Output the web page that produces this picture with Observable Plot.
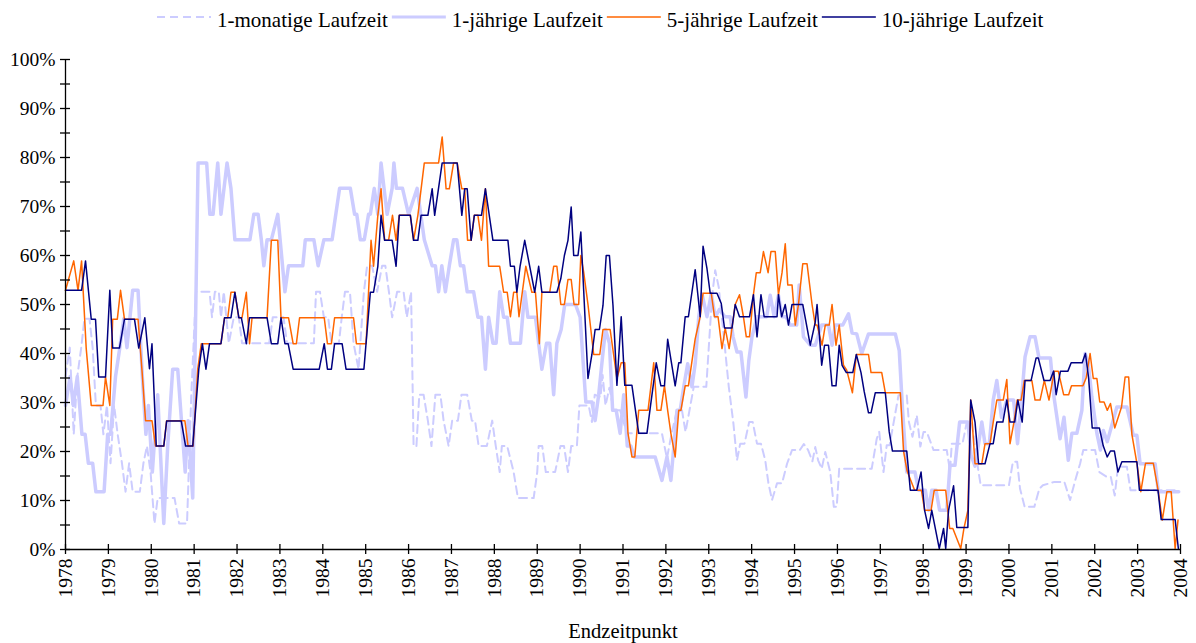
<!DOCTYPE html>
<html><head><meta charset="utf-8">
<script src="https://cdn.jsdelivr.net/npm/d3@7"></script>
<script src="https://cdn.jsdelivr.net/npm/@observablehq/plot@0.6"></script>
<style>
body{margin:0;background:#fff;font-family:"Liberation Serif","Times New Roman",serif;}
#wrap{position:relative;width:1196px;height:643px;overflow:hidden;background:#fff;}
#legend{position:absolute;left:0;top:0;}
#chart{position:absolute;left:0;top:40px;}
#caption{position:absolute;left:0;top:610px;}
</style></head>
<body><div id="wrap"><div id="legend"></div><div id="chart"></div><div id="caption"></div></div>
<script>
// month offsets from Jan 1978, values in percent
const monat1 = [[0,35.3],[1.2,41.2],[2.3,23.5],[3.3,35.3],[4.4,41.2],[5.3,47.1],[6.7,47.1],[7.6,41.2],[8.5,29.4],[9.8,29.4],[10.6,23.5],[11.6,29.4],[12.6,17.6],[13.6,29.4],[14.6,23.5],[15.8,17.6],[16.8,11.8],[17.8,17.6],[18.8,11.8],[20.8,11.8],[21.8,17.6],[22.8,21.1],[23.8,15.8],[24.9,5.3],[25.8,10.5],[30.5,10.5],[31.8,5.3],[34.0,5.3],[35.2,31.6],[36.5,52.6],[40.3,52.6],[41.0,47.4],[41.8,52.6],[42.9,52.6],[43.5,47.4],[44.3,52.6],[45.7,42.1],[47.1,47.4],[48.5,47.4],[49.4,42.1],[57.0,42.1],[58.0,47.4],[61.0,47.4],[62.0,42.1],[69.5,42.1],[70.1,52.6],[71.2,52.6],[72.3,47.4],[73.5,47.4],[74.4,42.1],[76.5,42.1],[77.3,47.4],[78.2,52.6],[79.6,52.6],[80.6,42.1],[82.0,36.8],[83.5,52.6],[84.4,57.9],[85.8,57.9],[87.2,52.6],[88.6,57.9],[89.5,57.9],[90.5,52.6],[91.4,47.4],[92.8,52.6],[94.6,52.6],[95.5,47.4],[96.7,52.6],[97.4,21.1],[98.2,21.1],[99.0,31.6],[100.2,31.6],[101.4,26.3],[102.4,21.1],[103.5,31.6],[104.9,31.6],[105.8,26.3],[107.2,21.1],[108.2,26.3],[109.8,26.3],[110.8,31.6],[112.4,31.6],[113.7,26.3],[114.6,26.3],[115.6,21.1],[117.9,21.1],[119.4,26.3],[120.4,21.1],[121.5,15.8],[122.1,21.1],[123.6,21.1],[125.4,15.8],[126.6,10.5],[131.0,10.5],[132.0,15.8],[132.4,21.1],[133.4,21.1],[134.4,15.8],[137.0,15.8],[138.5,21.1],[139.5,21.1],[140.6,15.8],[141.5,21.1],[143.1,21.1],[143.8,29.4],[146.4,29.4],[147.3,26.0],[148.1,31.6],[149.7,31.1],[150.3,35.6],[151.1,29.4],[152.2,33.0],[153.4,28.4],[155.2,28.4],[157.1,23.7],[166.9,23.7],[168.3,18.6],[169.6,23.7],[171.1,28.4],[172.5,28.4],[173.5,24.0],[174.6,28.4],[175.8,33.2],[179.3,33.2],[180.2,43.5],[180.9,51.5],[181.8,57.0],[182.8,53.5],[184.6,40.6],[185.6,33.2],[186.9,25.7],[187.9,18.2],[188.8,21.6],[190.0,21.6],[191.3,26.0],[192.3,26.0],[193.5,21.6],[194.6,21.6],[195.8,18.2],[196.7,13.5],[197.7,10.1],[199.1,13.5],[200.5,13.5],[201.9,17.5],[203.3,20.3],[205.5,20.3],[206.6,21.5],[207.8,20.3],[209.0,18.0],[209.8,20.9],[210.6,18.2],[211.6,16.5],[212.6,19.9],[214.0,15.8],[215.0,8.7],[215.8,8.7],[216.5,16.5],[225.6,16.5],[227.0,22.6],[227.7,24.0],[228.9,15.8],[229.8,21.3],[230.6,21.3],[233.1,31.5],[235.4,31.5],[236.0,26.0],[237.0,23.0],[238.2,27.4],[239.2,21.0],[240.1,24.0],[241.0,24.0],[242.9,20.3],[246.6,20.3],[247.5,16.0],[248.0,21.6],[251.0,21.6],[252.2,26.0],[253.6,26.0],[254.5,21.0],[255.5,15.8],[256.1,13.1],[264.0,13.1],[265.1,17.9],[266.3,17.9],[267.1,12.4],[268.4,8.7],[271.1,8.7],[272.5,12.4],[273.5,13.1],[276.7,13.8],[279.5,13.8],[281.1,10.1],[282.5,14.0],[283.9,17.5],[284.8,20.3],[288.1,20.3],[289.3,15.8],[291.4,14.8],[292.5,14.8],[293.6,11.0],[294.5,16.9],[297.0,16.9],[298.0,12.1],[311.5,12.1]];

const jahr1 = [[0,29.4],[1.3,35.3],[2.2,29.4],[3.3,35.3],[4.6,23.5],[5.5,23.5],[6.4,17.6],[7.6,17.6],[8.5,11.8],[10.8,11.8],[11.8,23.5],[12.6,23.5],[14.0,35.3],[15.2,41.2],[16.3,47.1],[17.2,41.2],[18.8,52.9],[20.3,52.9],[21.5,35.3],[22.5,23.5],[23.2,29.4],[24.3,15.8],[25.8,31.6],[27.5,5.3],[28.6,21.1],[30.0,36.8],[31.4,36.8],[33.5,15.8],[34.3,26.3],[35.6,10.5],[37.1,78.9],[39.5,78.9],[40.4,68.4],[41.3,68.4],[42.6,78.9],[43.5,68.4],[45.2,78.9],[46.3,73.7],[47.4,63.2],[51.6,63.2],[52.7,68.4],[53.9,68.4],[54.8,63.2],[55.5,57.9],[56.4,63.2],[57.6,63.2],[59.4,68.4],[61.4,52.6],[62.4,57.9],[66.4,57.9],[67.1,63.2],[69.5,63.2],[70.7,57.9],[72.3,63.2],[74.6,63.2],[76.7,73.7],[79.7,73.7],[80.9,68.4],[81.5,68.4],[82.5,63.2],[83.6,63.2],[84.8,68.4],[85.3,68.4],[86.4,73.7],[87.4,68.4],[88.3,78.9],[90.0,68.4],[91.4,73.7],[91.9,78.9],[92.6,73.7],[94.3,73.7],[96.0,68.4],[98.4,73.7],[100.4,63.2],[102.6,57.9],[103.5,57.9],[104.4,52.6],[105.3,57.9],[106.3,52.6],[107.4,57.9],[108.6,63.2],[109.5,63.2],[110.5,57.9],[111.4,57.9],[112.4,52.6],[114.2,52.6],[115.4,47.4],[116.4,47.4],[117.5,36.8],[118.4,47.4],[119.6,42.1],[120.5,42.1],[121.5,52.6],[122.6,47.4],[123.6,47.4],[124.5,42.1],[127.3,42.1],[128.5,52.6],[129.4,47.4],[131.5,47.4],[133.3,36.8],[134.6,42.1],[135.5,42.1],[136.6,31.6],[137.5,42.1],[138.7,44.9],[139.7,50.0],[142.7,50.0],[144.0,47.4],[145.6,30.1],[147.3,30.1],[148.2,26.3],[149.2,31.6],[150.3,39.5],[151.1,44.9],[152.2,42.1],[153.1,28.4],[154.1,28.4],[155.2,23.7],[156.2,31.6],[157.2,21.1],[158.2,21.1],[159.2,18.9],[165.0,18.9],[166.9,14.1],[168.3,18.9],[169.4,14.1],[171.1,28.4],[172.0,28.4],[173.0,33.2],[174.1,37.9],[175.3,33.2],[176.2,37.9],[177.2,47.5],[178.1,52.2],[179.5,47.5],[180.7,52.2],[181.8,47.5],[183.0,49.0],[184.5,47.5],[186.0,47.5],[186.8,43.4],[187.9,40.3],[189.0,40.3],[190.4,31.1],[191.2,38.5],[192.1,43.4],[193.5,47.5],[196.2,47.5],[197.2,51.9],[198.3,47.5],[199.5,51.9],[200.5,47.5],[201.6,47.5],[202.8,45.8],[204.6,45.8],[205.3,54.0],[206.5,43.4],[208.4,41.7],[209.8,41.7],[211.6,45.8],[213.5,45.8],[214.5,41.7],[215.4,45.8],[217.5,45.8],[219.1,48.1],[220.1,44.2],[221.4,44.0],[222.8,40.0],[224.7,44.0],[232.2,44.0],[233.3,40.6],[234.2,28.8],[235.4,15.8],[237.7,15.8],[238.7,12.1],[240.6,12.1],[241.5,8.0],[242.4,12.1],[243.6,12.1],[244.6,8.0],[246.6,8.0],[247.5,17.2],[248.9,17.2],[250.2,26.0],[252.5,26.0],[253.4,19.2],[254.5,17.0],[255.5,21.6],[256.4,26.0],[257.3,21.6],[258.5,21.6],[259.6,30.5],[260.6,34.5],[261.9,27.0],[263.4,30.5],[265.3,30.5],[266.4,21.6],[267.5,30.5],[268.5,39.3],[269.9,43.4],[271.3,43.4],[272.4,39.1],[275.6,39.1],[276.6,31.1],[278.3,22.6],[279.4,27.0],[280.6,18.2],[281.6,23.7],[283.0,23.7],[284.4,28.4],[285.3,40.0],[286.2,38.0],[287.2,31.1],[288.6,23.7],[289.6,20.3],[290.4,24.3],[291.5,22.0],[294.2,29.1],[297.0,29.1],[298.8,23.3],[299.8,23.3],[300.7,17.5],[304.9,17.5],[305.8,11.8],[311.5,11.8]];

const jahr5 = [[0,52.9],[2.3,58.9],[3.5,52.9],[4.5,58.9],[5.8,41.0],[7.2,29.4],[10.5,29.4],[11.2,35.2],[12.4,29.4],[13.2,47.0],[14.5,47.0],[15.4,52.9],[16.5,47.0],[20.3,47.0],[21.4,36.6],[22.4,26.3],[24.2,26.3],[25.2,21.1],[27.5,21.1],[28.3,26.3],[33.4,26.3],[34.3,21.1],[35.7,21.1],[37.0,36.8],[38.0,42.0],[43.5,42.0],[44.5,47.3],[45.4,47.3],[46.3,52.5],[47.4,52.5],[48.5,47.3],[49.4,47.3],[50.6,52.5],[51.5,42.0],[52.2,47.3],[56.4,47.3],[57.6,63.1],[59.4,63.1],[60.3,47.3],[62.4,47.3],[63.7,42.0],[64.6,42.0],[65.5,47.3],[72.4,47.3],[73.3,42.0],[74.4,42.0],[75.3,47.3],[80.6,47.3],[81.4,42.0],[84.1,42.0],[85.5,63.1],[86.2,57.8],[87.4,68.2],[88.3,73.6],[89.3,63.1],[90.4,63.1],[91.5,68.2],[92.5,63.1],[93.4,68.2],[96.5,68.2],[97.4,63.1],[98.6,68.2],[100.4,78.9],[104.4,78.9],[105.4,84.2],[106.5,73.6],[107.4,73.6],[108.6,78.9],[109.6,78.9],[110.9,73.6],[111.7,73.6],[112.5,63.1],[113.5,63.1],[114.4,68.2],[115.4,68.2],[116.4,63.1],[117.5,73.6],[118.4,57.8],[121.5,57.8],[122.6,52.5],[123.6,52.5],[124.5,47.5],[125.4,52.5],[126.3,52.5],[126.9,47.5],[128.8,57.8],[130.5,52.5],[131.5,52.5],[132.6,42.0],[133.3,52.5],[135.5,52.5],[136.6,57.8],[137.5,57.8],[138.6,50.0],[139.6,50.0],[140.6,55.1],[141.5,55.1],[142.3,50.0],[143.6,50.0],[144.2,60.0],[145.0,56.6],[146.2,50.0],[147.8,39.8],[149.5,39.8],[150.4,44.9],[152.4,44.9],[154.3,34.9],[155.5,38.1],[156.5,38.1],[157.4,23.7],[158.5,18.9],[159.3,18.9],[160.4,28.4],[163.0,28.4],[164.6,38.1],[165.5,28.4],[166.6,28.4],[167.6,33.4],[168.5,28.4],[169.4,23.7],[170.6,18.9],[171.6,28.4],[172.2,28.4],[173.4,33.4],[174.3,33.4],[176.2,43.0],[177.6,47.5],[178.4,52.3],[180.7,52.3],[181.6,47.5],[182.6,47.5],[183.7,41.0],[184.6,45.2],[185.7,41.0],[187.4,50.0],[188.6,52.0],[189.7,47.5],[190.5,43.4],[191.4,43.4],[192.5,52.0],[193.3,56.5],[194.4,56.5],[195.3,60.8],[196.6,56.5],[197.4,60.8],[198.6,60.8],[199.5,52.0],[200.5,56.5],[201.4,62.4],[202.1,54.0],[203.3,54.0],[204.2,45.8],[205.1,50.0],[206.3,58.3],[207.5,58.3],[208.9,50.0],[209.8,45.8],[210.3,45.8],[211.7,41.7],[212.6,45.8],[213.7,45.8],[214.5,50.0],[215.6,41.7],[216.5,45.8],[217.7,37.6],[218.6,36.6],[220.2,32.0],[221.3,39.8],[224.7,39.8],[225.4,36.1],[228.4,36.1],[229.4,32.0],[233.6,32.0],[234.5,20.1],[235.5,16.0],[237.6,12.1],[239.5,12.1],[240.4,8.0],[242.2,8.0],[243.1,12.1],[246.3,12.1],[247.4,4.3],[248.3,4.3],[250.5,0.2],[251.4,4.3],[252.5,8.0],[253.3,30.5],[254.5,17.5],[256.4,17.5],[257.3,21.6],[258.7,21.6],[259.6,26.0],[260.6,30.5],[262.4,30.5],[263.4,34.7],[264.3,21.6],[265.4,26.0],[266.3,30.5],[267.4,30.5],[268.3,34.5],[270.4,34.5],[271.3,30.5],[272.7,30.5],[273.9,34.5],[275.2,30.5],[276.7,36.4],[277.8,36.4],[279.3,31.6],[280.7,31.6],[281.5,33.4],[284.7,33.4],[285.6,35.0],[286.7,40.0],[287.6,34.9],[288.6,34.9],[289.4,30.1],[290.6,30.1],[291.5,28.4],[292.4,29.8],[293.6,24.8],[295.5,29.1],[296.5,35.2],[297.5,35.2],[298.4,23.5],[299.8,17.6],[300.9,11.8],[302.2,17.6],[304.4,17.6],[305.8,11.8],[306.9,6.0],[308.2,11.8],[309.4,11.8],[310.5,0.2],[311.3,6.0]];

const jahr10 = [[0,52.9],[4.5,52.9],[5.6,58.9],[7.2,47.0],[8.4,47.0],[9.3,35.2],[11.2,35.2],[12.4,52.9],[13.2,41.1],[15.1,41.1],[16.5,47.0],[19.3,47.0],[20.5,41.1],[22.2,47.3],[23.5,36.9],[24.2,42.0],[25.4,21.1],[27.5,21.1],[28.3,26.2],[32.4,26.2],[33.6,21.1],[35.6,21.1],[37.3,36.8],[38.3,42.0],[39.3,36.8],[40.3,42.0],[43.5,42.0],[44.5,47.3],[46.3,47.3],[47.4,52.5],[48.5,47.3],[49.2,47.3],[50.6,42.0],[51.5,47.3],[56.4,47.3],[57.6,42.0],[59.4,42.0],[60.3,47.3],[61.4,42.0],[62.3,42.0],[63.7,36.8],[71.0,36.8],[72.4,42.0],[73.3,36.8],[74.4,36.8],[75.3,42.0],[77.4,42.0],[78.5,36.8],[83.5,36.8],[85.3,52.5],[86.2,52.5],[87.4,57.8],[88.3,68.2],[89.3,63.1],[91.4,63.1],[92.5,57.8],[93.4,68.2],[96.5,68.2],[97.4,63.1],[98.6,63.1],[99.5,68.2],[101.4,68.2],[102.6,73.6],[103.3,68.2],[105.4,78.9],[109.6,78.9],[110.9,68.2],[111.7,73.6],[112.4,73.6],[113.5,63.1],[114.4,68.2],[116.4,68.2],[117.5,73.6],[119.6,63.1],[123.8,63.1],[124.5,57.8],[125.6,57.8],[126.3,52.5],[127.2,57.8],[128.5,63.1],[129.9,57.8],[131.3,52.5],[132.4,57.8],[133.3,52.5],[137.5,52.5],[138.6,55.3],[139.6,60.0],[140.6,63.1],[141.5,69.9],[142.2,60.0],[143.4,60.0],[144.2,64.8],[146.2,34.9],[147.3,39.8],[148.2,44.9],[149.4,44.9],[150.4,49.8],[151.3,60.0],[152.2,60.0],[153.2,49.8],[154.3,33.5],[155.5,47.5],[156.5,33.5],[158.5,33.5],[160.4,23.7],[162.7,23.7],[163.6,28.8],[165.3,38.1],[166.6,33.4],[167.6,33.4],[168.5,42.9],[170.6,33.4],[171.6,38.1],[172.2,38.1],[173.4,47.5],[174.3,47.5],[176.2,57.1],[177.6,47.5],[178.4,61.9],[179.5,57.3],[180.4,52.3],[182.3,52.3],[183.5,50.2],[184.4,45.2],[186.5,45.2],[187.4,50.0],[188.6,47.5],[191.4,47.5],[192.5,52.0],[193.5,43.4],[194.6,52.0],[195.5,47.5],[199.1,47.5],[199.5,52.0],[200.4,47.5],[201.4,50.0],[202.3,45.8],[203.3,50.0],[206.3,50.0],[208.4,41.7],[209.8,46.4],[210.3,50.0],[211.6,37.6],[212.4,41.7],[213.5,41.7],[214.5,33.4],[215.6,33.4],[216.5,41.7],[217.3,37.6],[218.5,36.1],[220.3,36.1],[221.3,39.8],[222.6,36.1],[223.5,32.2],[224.7,27.9],[225.4,27.9],[226.6,32.0],[229.4,32.0],[230.5,24.0],[231.4,20.1],[235.4,20.1],[236.4,12.1],[238.2,12.1],[239.4,15.8],[240.4,8.0],[241.5,4.3],[242.4,8.0],[244.5,0.2],[245.7,4.3],[246.3,0.2],[247.1,8.0],[248.5,13.0],[249.4,4.5],[252.5,4.5],[253.3,30.5],[254.5,26.0],[255.5,17.5],[257.3,17.5],[258.7,21.6],[259.6,21.6],[260.6,26.0],[262.3,26.0],[263.4,30.5],[264.3,26.0],[265.6,26.0],[266.5,30.5],[267.7,26.0],[268.5,34.5],[270.2,34.5],[271.6,39.1],[272.2,39.1],[273.8,34.5],[275.5,34.5],[276.5,36.4],[277.2,31.6],[278.4,36.4],[280.5,36.4],[281.4,38.1],[284.5,38.1],[285.4,40.0],[286.3,34.9],[287.3,24.8],[289.3,24.8],[290.4,21.1],[291.5,18.9],[292.4,20.1],[293.5,20.1],[294.5,15.8],[295.6,17.9],[299.8,17.9],[300.5,12.1],[305.7,12.1],[306.6,6.1],[310.5,6.1],[311.4,0.2]];

const years = [1978,1979,1980,1981,1982,1983,1984,1985,1986,1987,1988,1989,1990,1991,1992,1993,1994,1995,1996,1997,1998,1999,2000,2001,2002,2003,2004];
const yTicks = [0,10,20,30,40,50,60,70,80,90,100];
const yMinor = [0,5,10,15,20,25,30,35,40,45,50,55,60,65,70,75,80,85,90,95,100];

const seriesNames = ["1-monatige Laufzeit","1-jährige Laufzeit","5-jährige Laufzeit","10-jährige Laufzeit"];
const seriesColors = ["#ccccff","#ccccff","#ff6600","#000080"];
const seriesWidths = [2,3.5,1.5,1.5];
const seriesDash = ["8,5",null,null,null];

const FONT = '"Liberation Serif","Times New Roman",serif';
const rows = arr => arr.map(([m, v]) => ({x: 1978 + m / 12, y: v}));
const allSeries = [monat1, jahr1, jahr5, jahr10];

const lineMarks = allSeries.map((s, i) => Plot.line(rows(s), {
  x: "x", y: "y", stroke: seriesColors[i], strokeWidth: seriesWidths[i],
  strokeDasharray: seriesDash[i] || undefined, curve: "linear", strokeLinejoin: "round"
}));

const chart = Plot.plot({
  width: 1196, height: 570,
  marginLeft: 65, marginRight: 16, marginTop: 19, marginBottom: 61,
  style: {fontFamily: FONT, fontSize: "19.5px", color: "#000", background: "transparent", overflow: "visible"},
  x: {domain: [1978, 2004]},
  y: {domain: [0, 100]},
  marks: [
    ...lineMarks,
    Plot.ruleX([1978], {stroke: "#000", strokeWidth: 1.3}),
    Plot.ruleY([0], {stroke: "#000", strokeWidth: 1.3}),
    Plot.axisY(yMinor, {tickSize: 10, dx: 5, tickFormat: () => "", label: null, strokeWidth: 1.3}),
    Plot.axisY(yTicks, {tickSize: 0, tickPadding: 10, tickFormat: d => d + "%", label: null}),
    Plot.axisX(years, {tickSize: 10, dy: -5, tickFormat: () => "", label: null, strokeWidth: 1.3}),
    Plot.axisX(years, {tickSize: 0, tickPadding: 9, tickRotate: -90, tickFormat: d => String(d), label: null})
  ]
});
document.getElementById("chart").appendChild(chart);

// legend
const lsvg = d3.select("#legend").append("svg").attr("width", 1196).attr("height", 40);
let lx = 157;
seriesNames.forEach((name, i) => {
  lsvg.append("line").attr("x1", lx).attr("x2", lx + 54).attr("y1", 17).attr("y2", 17)
    .attr("stroke", seriesColors[i]).attr("stroke-width", i === 1 ? 3 : (i === 0 ? 2 : 1.5))
    .attr("stroke-dasharray", seriesDash[i]);
  const t = lsvg.append("text").attr("x", lx + 60).attr("y", 27).text(name)
    .style("font-family", FONT).style("font-size", "21px").attr("fill", "#000");
  lx = lx + 60 + t.node().getComputedTextLength() + 4;
});

// caption
const csvg = d3.select("#caption").append("svg").attr("width", 1196).attr("height", 33);
csvg.append("text").attr("x", 623).attr("y", 28).attr("text-anchor", "middle")
  .text("Endzeitpunkt").style("font-family", FONT).style("font-size", "20.5px").attr("fill", "#000");
</script>
</body></html>
